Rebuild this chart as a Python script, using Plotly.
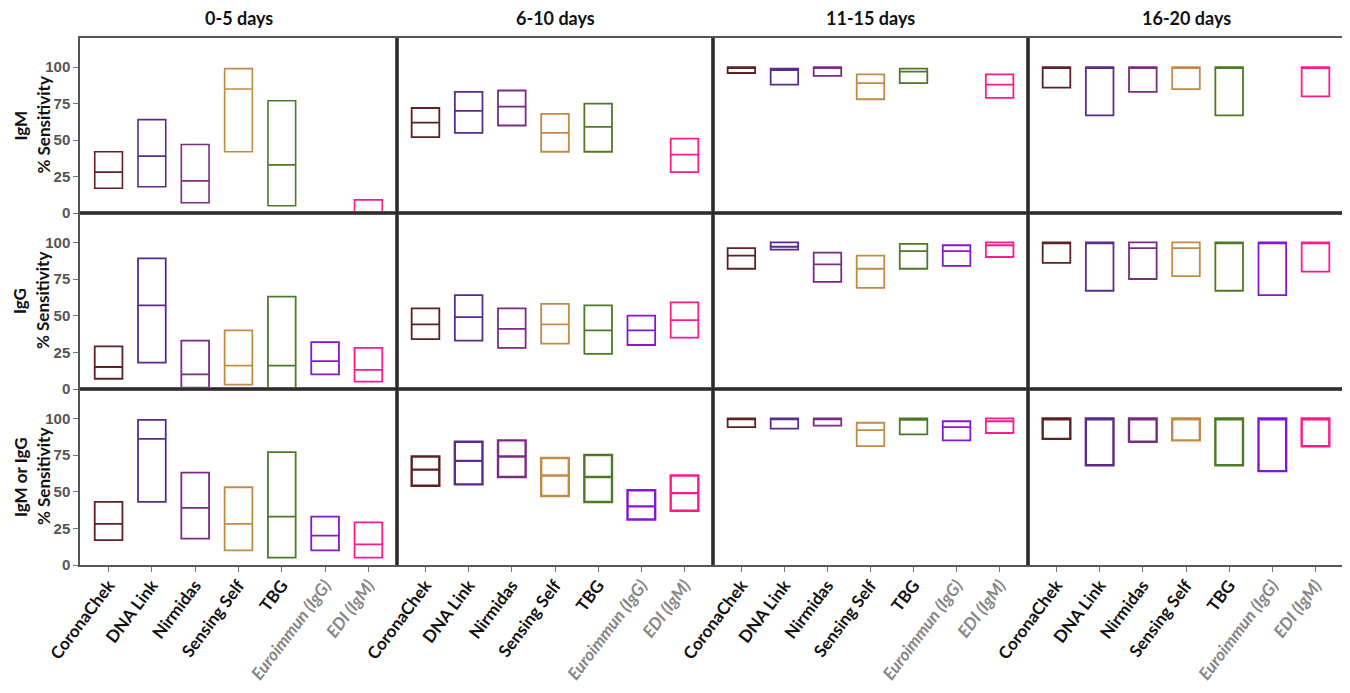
import plotly.graph_objects as go

# ---------------- data ----------------
TESTS = ["CoronaChek", "DNA Link", "Nirmidas", "Sensing Self", "TBG",
         "Euroimmun (IgG)", "EDI (IgM)"]
REFERENCE_TESTS = ["Euroimmun (IgG)", "EDI (IgM)"]
TEST_COLORS = ["#5e2222", "#5b2b8a", "#7b2c82", "#c28b45", "#4d7a26",
               "#8616d6", "#ff1a8c"]
DAY_BINS = ["0-5 days", "6-10 days", "11-15 days", "16-20 days"]
ROW_LABELS = ["IgM", "IgG", "IgM or IgG"]
Y_TICKS = [0, 25, 50, 75, 100]

# (lower CI, point estimate, upper CI) % sensitivity per test; None = not applicable
IGM_D0_5 = [(17, 28, 42), (18, 39, 64), (7, 22, 47), (42, 85, 99), (5, 33, 77), None, (0, 0, 9)]
IGM_D6_10 = [(52, 62, 72), (55, 70, 83), (60, 73, 84), (42, 55, 68), (42, 59, 75), None, (28, 40, 51)]
IGM_D11_15 = [(96, 100, 100), (88, 98, 99), (94, 100, 100), (78, 89, 95), (89, 97, 99), None, (79, 88, 95)]
IGM_D16_20 = [(86, 100, 100), (67, 100, 100), (83, 100, 100), (85, 100, 100), (67, 100, 100), None, (80, 100, 100)]

IGG_D0_5 = [(7, 15, 29), (18, 57, 89), (1, 10, 33), (3, 16, 40), (0, 16, 63), (10, 19, 32), (5, 13, 28)]
IGG_D6_10 = [(34, 44, 55), (33, 49, 64), (28, 41, 55), (31, 44, 58), (24, 40, 57), (30, 40, 50), (35, 47, 59)]
IGG_D11_15 = [(82, 91, 96), (95, 97, 100), (73, 85, 93), (69, 82, 91), (82, 94, 99), (84, 94, 98), (90, 98, 100)]
IGG_D16_20 = [(86, 100, 100), (67, 100, 100), (75, 96, 100), (77, 96, 100), (67, 100, 100), (64, 100, 100), (80, 100, 100)]

ANY_D0_5 = [(17, 28, 43), (43, 86, 99), (18, 39, 63), (10, 28, 53), (5, 33, 77), (10, 20, 33), (5, 14, 29)]
ANY_D6_10 = [(54, 65, 74), (55, 71, 84), (60, 74, 85), (47, 61, 73), (43, 60, 75), (31, 40, 51), (37, 49, 61)]
ANY_D11_15 = [(94, 100, 100), (93, 100, 100), (95, 100, 100), (81, 92, 97), (89, 99, 100), (85, 94, 98), (90, 98, 100)]
ANY_D16_20 = [(86, 100, 100), (68, 100, 100), (84, 100, 100), (85, 100, 100), (68, 100, 100), (64, 100, 100), (81, 100, 100)]

PANELS = [
    [IGM_D0_5, IGM_D6_10, IGM_D11_15, IGM_D16_20],
    [IGG_D0_5, IGG_D6_10, IGG_D11_15, IGG_D16_20],
    [ANY_D0_5, ANY_D6_10, ANY_D11_15, ANY_D16_20],
]

# ---------------- layout geometry ----------------
# The page body has an 8px default margin, so the figure is made smaller and
# target page-pixel positions are converted to figure paper coordinates.
PAGE_OFF = 8
W, H = 1350 - PAGE_OFF, 693 - PAGE_OFF
COL_PX = [80, 397, 713, 1028, 1344]   # page pixels
ROW_PX = [38, 213, 389, 565]          # page pixels
LINE_W = [[1.6, 1.8, 1.8, 1.8], [1.8, 1.8, 1.8, 1.8], [1.8, 2.4, 1.8, 2.4]]


def px(xp):
    return (xp - PAGE_OFF) / W


def py(yp):
    return 1 - (yp - PAGE_OFF) / H


FONT = "Lato"

fig = go.Figure()


def fmt_tick(t):
    if t in REFERENCE_TESTS:
        return "<span style='color:#858585'><i><b>%s</b></i></span>" % t
    return "<b>%s</b>" % t


layout_axes = {}
for r in range(3):
    for c in range(4):
        k = r * 4 + c + 1
        xa = "x" if k == 1 else "x%d" % k
        ya = "y" if k == 1 else "y%d" % k
        for i, t in enumerate(TESTS):
            v = PANELS[r][c][i]
            if v is None:
                continue
            lo, med, hi = v
            fig.add_trace(go.Box(
                x=[t], q1=[lo], median=[med], q3=[hi],
                lowerfence=[lo], upperfence=[hi],
                width=0.64, whiskerwidth=0,
                line=dict(color=TEST_COLORS[i], width=LINE_W[r][c]),
                fillcolor="rgba(0,0,0,0)", boxpoints=False,
                showlegend=False, hoverinfo="skip",
                xaxis=xa, yaxis=ya,
            ))
        layout_axes["xaxis" if k == 1 else "xaxis%d" % k] = dict(
            domain=[px(COL_PX[c]), min(1.0, px(COL_PX[c + 1]))], anchor=ya, type="category",
            categoryorder="array", categoryarray=TESTS,
            range=[-0.66, 6.66], showgrid=False, zeroline=False,
            showline=True, mirror=True, linecolor="#555555", linewidth=1.5,
            tickmode="array", tickvals=TESTS,
            ticktext=[fmt_tick(t) for t in TESTS],
            showticklabels=(r == 2), ticks="outside" if r == 2 else "",
            ticklen=5, tickcolor="#777777", tickwidth=1.2,
            tickangle=-53, automargin=False, ticklabelstandoff=-3,
            tickfont=dict(family=FONT, size=17, color="#111111"),
        )
        layout_axes["yaxis" if k == 1 else "yaxis%d" % k] = dict(
            domain=[py(ROW_PX[r + 1]), py(ROW_PX[r])], anchor=xa, range=[0, 120],
            showgrid=False, zeroline=False,
            showline=True, mirror=True, linecolor="#555555", linewidth=1.5,
            tickmode="array", tickvals=Y_TICKS,
            showticklabels=(c == 0), ticks="outside" if c == 0 else "",
            ticklen=5, tickcolor="#777777", tickwidth=1.2, automargin=False,
            tickfont=dict(family="Liberation Sans", size=15, color="#555555",
                          weight="bold"),
        )

annotations = []
for c, d in enumerate(DAY_BINS):
    annotations.append(dict(
        text="<b>%s</b>" % d, x=px((COL_PX[c] + COL_PX[c + 1]) / 2), y=py(18),
        xref="paper", yref="paper", showarrow=False, xanchor="center", yanchor="middle",
        font=dict(family=FONT, size=18, color="#111111"),
    ))
for r, lab in enumerate(ROW_LABELS):
    yc = py((ROW_PX[r] + ROW_PX[r + 1]) / 2)
    annotations.append(dict(
        text="<b>%s</b>" % lab, x=px(20), y=yc, textangle=-90,
        xref="paper", yref="paper", showarrow=False, xanchor="center", yanchor="middle",
        font=dict(family=FONT, size=17, color="#111111"),
    ))
    annotations.append(dict(
        text="<b>% Sensitivity</b>", x=px(43), y=yc, textangle=-90,
        xref="paper", yref="paper", showarrow=False, xanchor="center", yanchor="middle",
        font=dict(family=FONT, size=17, color="#111111"),
    ))

# darker interior dividers
shapes = []
for cx in COL_PX[1:-1]:
    shapes.append(dict(type="line", xref="paper", yref="paper",
                       x0=px(cx), x1=px(cx), y0=py(ROW_PX[-1]), y1=py(ROW_PX[0]),
                       line=dict(color="#222222", width=1.6)))
for ry in ROW_PX[1:-1]:
    shapes.append(dict(type="line", xref="paper", yref="paper",
                       x0=px(COL_PX[0]), x1=min(1.0, px(COL_PX[-1])), y0=py(ry), y1=py(ry),
                       line=dict(color="#222222", width=1.6)))

fig.update_layout(
    width=W, height=H, margin=dict(l=0, r=0, t=0, b=0, autoexpand=False),
    paper_bgcolor="white", plot_bgcolor="white",
    boxmode="overlay", annotations=annotations, shapes=shapes,
    **layout_axes,
)

fig.write_html("out.html")
